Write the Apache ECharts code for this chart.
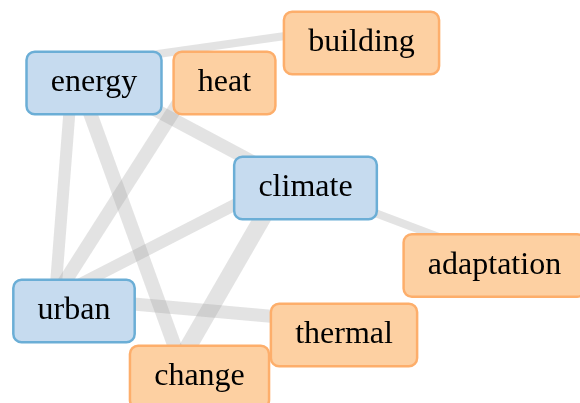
<!DOCTYPE html>
<html>
<head>
<meta charset="utf-8">
<script src="https://cdn.jsdelivr.net/npm/echarts@6/dist/echarts.min.js"></script>
<style>
html,body{margin:0;padding:0;background:#fff;}
#chart{width:580px;height:403px;}
</style>
</head>
<body>
<div id="chart"></div>
<script>
// ---- data ----
const nodeNames  = ['energy', 'heat', 'building', 'climate', 'adaptation', 'urban', 'thermal', 'change'];
const nodeGroups = ['hub', 'term', 'term', 'hub', 'term', 'hub', 'term', 'term'];
const nodeX      = [73, 201, 341.5, 285, 474.5, 55, 324, 180];
const nodeY      = [66, 68, 28, 179, 250.5, 297, 321, 361];

const edgeSource = ['energy', 'energy', 'energy', 'energy', 'heat', 'climate', 'climate', 'climate', 'urban'];
const edgeTarget = ['building', 'climate', 'urban', 'change', 'urban', 'urban', 'change', 'adaptation', 'thermal'];
const edgeWeight = [8, 13, 12, 14, 14, 12, 17, 8, 13];

// label placement relative to node point
const labelDX = [21, 23.5, 20, 20.5, 20, 19, 20, 19.5];
const labelDY = [17, 15, 15, 9, 15, 14, 14, 16];

// ---- styles ----
const groupStyle = {
  hub:  { fill: '#c6dbef', stroke: '#6baed6' },
  term: { fill: '#fdd0a2', stroke: '#fdae6b' }
};

const nodes = nodeNames.map((n, i) => ({
  name: n,
  value: [nodeX[i], nodeY[i]],
  label: {
    offset: [labelDX[i], labelDY[i]],
    backgroundColor: groupStyle[nodeGroups[i]].fill,
    borderColor: groupStyle[nodeGroups[i]].stroke
  }
}));

const links = edgeSource.map((s, i) => ({
  source: s,
  target: edgeTarget[i],
  lineStyle: { width: edgeWeight[i] }
}));

const chart = echarts.init(document.getElementById('chart'), null, { renderer: 'canvas' });
chart.setOption({
  animation: false,
  backgroundColor: '#ffffff',
  grid: { left: 0, right: 0, top: 0, bottom: 0 },
  xAxis: { type: 'value', min: 0, max: 580, show: false },
  yAxis: { type: 'value', min: 0, max: 403, inverse: true, show: false },
  series: [{
    type: 'graph',
    coordinateSystem: 'cartesian2d',
    layout: 'none',
    symbol: 'circle',
    symbolSize: 1,
    itemStyle: { color: 'rgba(0,0,0,0)' },
    data: nodes,
    links: links,
    lineStyle: { color: '#9a9a9a', opacity: 0.28, curveness: 0 },
    label: {
      show: true,
      position: 'inside',
      fontFamily: 'Liberation Serif',
      fontSize: 32,
      lineHeight: 34,
      color: '#000000',
      padding: [13, 23],
      borderWidth: 2.5,
      borderRadius: 7
    },
    emphasis: { disabled: true },
    silent: true
  }]
});
</script>
</body>
</html>
